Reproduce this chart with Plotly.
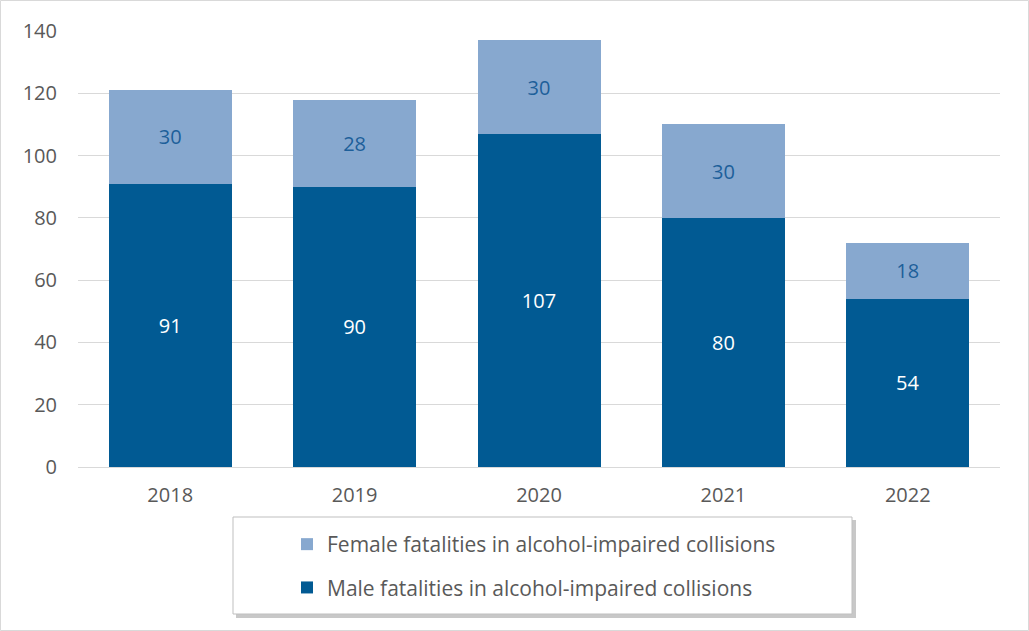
import plotly.graph_objects as go

years = ["2018", "2019", "2020", "2021", "2022"]
male = [91, 90, 107, 80, 54]
female = [30, 28, 30, 30, 18]

W, H = 1029, 631
L, R, T, B = 78, 29, 31, 164
pw, ph = W - L - R, H - T - B


def px_x(p):
    return (p - L) / pw


def px_y(p):
    return (H - B - p) / ph


fig = go.Figure()
fig.add_bar(
    x=years, y=male, name="Male fatalities in alcohol-impaired collisions",
    marker_color="#015a93", marker_line_width=0,
    text=male, textposition="inside", insidetextanchor="middle",
    textfont=dict(color="white", size=20), legendgroup="m", legendrank=2,
)
fig.add_bar(
    x=years, y=female, name="Female fatalities in alcohol-impaired collisions",
    marker_color="#87a8cf", marker_line_width=0,
    text=female, textposition="inside", insidetextanchor="middle",
    textfont=dict(color="#1d5f9a", size=20), legendgroup="f", legendrank=1,
)

shapes = [
    # outer border
    dict(type="rect", xref="paper", yref="paper", x0=px_x(0.5), x1=px_x(W - 0.5),
         y0=px_y(H - 0.5), y1=px_y(0.5), line=dict(color="#d9d9d9", width=1), layer="below"),
    # legend shadow
    dict(type="rect", xref="paper", yref="paper", x0=px_x(236), x1=px_x(856),
         y0=px_y(618), y1=px_y(520), line=dict(width=0), fillcolor="#c8c8c8", layer="below"),
    # legend box
    dict(type="rect", xref="paper", yref="paper", x0=px_x(233), x1=px_x(852),
         y0=px_y(614), y1=px_y(517), line=dict(color="#bfbfbf", width=1), fillcolor="white", layer="below"),
]

fig.update_layout(
    width=W, height=H,
    barmode="stack", bargap=0.333,
    plot_bgcolor="white", paper_bgcolor="white",
    margin=dict(l=L, r=R, t=T, b=B),
    font=dict(family="Open Sans, sans-serif", color="#595959", size=20),
    uniformtext=dict(minsize=20, mode="show"),
    xaxis=dict(showline=True, linecolor="#d9d9d9", ticks="", ticklabelstandoff=10,
               tickfont=dict(size=20, color="#595959")),
    yaxis=dict(range=[0, 140], dtick=20, gridcolor="#d9d9d9", zeroline=False, ticks="",
               ticklabelstandoff=20, tickfont=dict(size=20, color="#595959")),
    legend=dict(orientation="v", traceorder="grouped", x=px_x(287), y=px_y(524),
                xanchor="left", yanchor="top", bgcolor="rgba(0,0,0,0)",
                font=dict(size=21, color="#595959"), tracegroupgap=13),
    shapes=shapes,
    showlegend=True,
)

fig.write_html("out.html", config={"displayModeBar": False},
               post_script="document.body.style.margin='0px';")
